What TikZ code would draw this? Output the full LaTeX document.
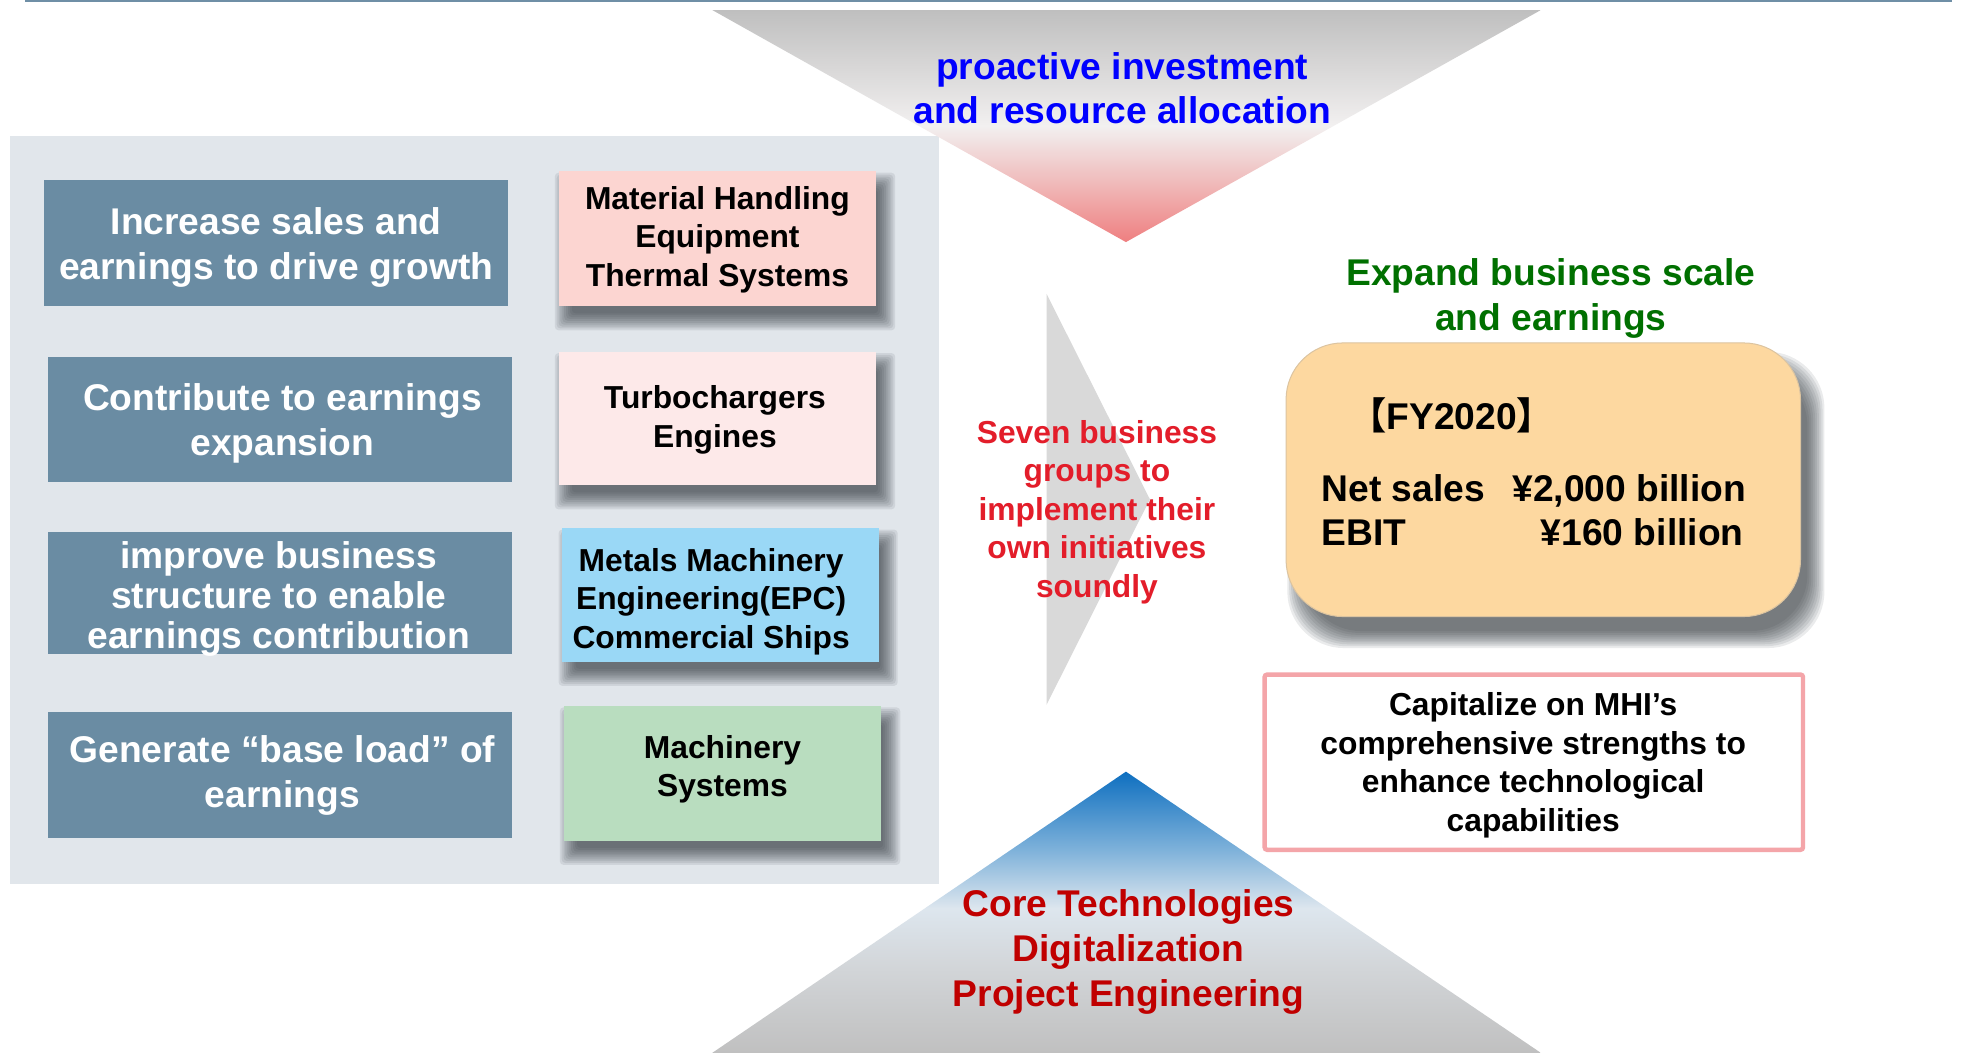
\documentclass[tikz,border=0pt]{standalone}
\usepackage{fontspec}
\setmainfont{Liberation Sans}
\newfontfamily\cjkfont{Noto Sans CJK JP}
\definecolor{topline}{HTML}{6F8FA6}
\definecolor{panel}{HTML}{E1E6EB}
\definecolor{bluebox}{HTML}{6A8CA3}
\definecolor{boxa}{HTML}{FCD5D1}
\definecolor{boxb}{HTML}{FDE9E9}
\definecolor{boxc}{HTML}{9AD8F6}
\definecolor{boxd}{HTML}{B9DDBF}
\definecolor{midtri}{HTML}{D9D9D9}
\definecolor{sevenred}{HTML}{E31D2A}
\definecolor{expgreen}{HTML}{007000}
\definecolor{coredred}{HTML}{C00000}
\definecolor{orangebox}{HTML}{FDD8A0}
\definecolor{orangeline}{HTML}{DCC4A0}
\definecolor{pinkline}{HTML}{F4A5A9}
\definecolor{tcoral}{HTML}{EF7F80}
\definecolor{tpinkmid}{HTML}{F0C4C4}
\definecolor{tpale}{HTML}{F2F0F0}
\definecolor{tgray}{HTML}{BFBFBF}
\definecolor{bblue}{HTML}{0E6FC0}
\definecolor{bmidblue}{HTML}{7FB2DA}
\definecolor{bpale}{HTML}{DDE6EE}
\definecolor{bgraymid}{HTML}{D2D5D8}
\definecolor{bgray}{HTML}{C0C0C0}
\definecolor{shadowcol}{HTML}{2A3038}
\pgfdeclareverticalshading{toptrishade}{100bp}{color(0bp)=(tcoral); color(25bp)=(tcoral); color(40bp)=(tpinkmid); color(50bp)=(tpale); color(75bp)=(tgray); color(100bp)=(tgray)}
\pgfdeclareverticalshading{bottrishade}{100bp}{color(0bp)=(bgray); color(25bp)=(bgray); color(40bp)=(bgraymid); color(50.7bp)=(bpale); color(61bp)=(bmidblue); color(75bp)=(bblue); color(100bp)=(bblue)}
\newcommand\bigtxt{\fontsize{29.5}{35.5}\selectfont\bfseries}
\newcommand\tighttxt{\fontsize{29.5}{31.5}\selectfont\bfseries}
\newcommand\smalltxt{\fontsize{25.2}{30.5}\selectfont\bfseries}
% soft shadow: x1 y1 x2 y2 dx dy corner
\newcommand\softshadow[7]{%
  \foreach \r in {9,7.5,...,-4.5}{%
    \fill[shadowcol, opacity=0.095, rounded corners=#7]
      ({#1+#5-\r},{#2+#6-\r}) rectangle ({#3+#5+\r},{#4+#6+\r});
  }}
\tikzset{
  leftbox/.style={fill=bluebox, inner sep=0pt, minimum width=368pt},
  rightbox/.style={inner sep=0pt, minimum width=252pt, minimum height=107pt},
  label/.style={inner sep=0pt, align=center}
}
\begin{document}
\begin{tikzpicture}[x=1pt,y=-1pt]
\useasboundingbox (0,0) rectangle (1568,837);
\fill[white] (0,0) rectangle (1568,837);
% top line
\draw[topline, line width=1.5pt] (20,1) coordinate (tl1) -- (1548,1) coordinate (tl2);
% left panel
\fill[panel] (8,108) rectangle (745,701);
% top triangle
\coordinate (ta) at (565,8);
\coordinate (tb) at (1222,8);
\coordinate (tc) at (893,192);
\shade[shading=toptrishade] (ta) -- (tb) -- (tc) -- cycle;
\node[label, text=blue, font=\bigtxt] (proactive) at (890,70) {proactive investment\\and resource allocation};
% middle triangle
\coordinate (ma) at (830,233);
\coordinate (mb) at (830,559);
\coordinate (mc) at (912,396);
\fill[midtri] (ma) -- (mc) -- (mb) -- cycle;
% bottom triangle
\coordinate (ba) at (893,612);
\coordinate (bb) at (1222,835);
\coordinate (bc) at (565,835);
\shade[shading=bottrishade] (ba) -- (bb) -- (bc) -- cycle;
% left boxes
\node[leftbox, minimum height=100pt] (g1) at (219,193) {};
\node[label, text=white, font=\bigtxt] (g1t) at (219,196) {Increase sales and\\earnings to drive growth};
\node[leftbox, minimum height=99pt] (g2) at (222,333) {};
\node[label, text=white, font=\bigtxt] (g2t) at (224,336) {Contribute to earnings\\expansion};
\node[leftbox, minimum height=97pt] (g3) at (222,470.5) {};
\node[label, text=white, font=\tighttxt] (g3t) at (221,475) {improve business\\structure to enable\\earnings contribution};
\node[leftbox, minimum height=100pt] (g4) at (222,615) {};
\node[label, text=white, font=\bigtxt] (g4t) at (224,615) {Generate “base load” of\\earnings};
% right boxes with shadows
\softshadow{443}{136}{695}{243}{6}{10}{3pt}
\softshadow{443}{279}{695}{385}{6}{10}{3pt}
\softshadow{446}{419}{697}{525}{6}{10}{3pt}
\softshadow{447}{560}{699}{667}{6}{10}{3pt}
\node[rightbox, fill=boxa] (r1) at (569,189.5) {};
\node[label, font=\smalltxt] (r1t) at (569,190) {Material Handling\\Equipment\\Thermal Systems};
\node[rightbox, fill=boxb, minimum height=106pt] (r2) at (569,332) {};
\node[label, font=\smalltxt] (r2t) at (567,333) {Turbochargers\\Engines};
\node[rightbox, fill=boxc, minimum width=251pt, minimum height=106pt] (r3) at (571.5,472) {};
\node[label, font=\smalltxt] (r3t) at (564,477) {Metals Machinery\\Engineering(EPC)\\Commercial Ships};
\node[rightbox, fill=boxd] (r4) at (573,613.5) {};
\node[label, font=\smalltxt] (r4t) at (573,610) {Machinery\\Systems};
% seven business groups
\node[label, text=sevenred, font=\smalltxt] (seven) at (870,406) {Seven business\\groups to\\implement their\\own initiatives\\soundly};
% expand
\node[label, text=expgreen, font=\bigtxt] (expand) at (1230,237) {Expand business scale\\and earnings};
% orange box
\softshadow{1020}{272}{1428}{489}{10}{16}{45pt}
\node[draw=orangeline, line width=0.8pt, fill=orangebox, rounded corners=45pt, minimum width=408pt, minimum height=217pt, inner sep=0pt] (fy) at (1224,380.5) {};
\node[label, anchor=base west, font=\bigtxt] (fyt) at (1070,341) {{\cjkfont【}FY2020{\cjkfont】}};
\node[label, anchor=base west, font=\bigtxt] (ns) at (1048,397.5) {Net sales};
\node[label, anchor=base east, font=\bigtxt] (nsv) at (1385,397.5) {¥2,000 billion};
\node[label, anchor=base west, font=\bigtxt] (eb) at (1048,432.5) {EBIT};
\node[label, anchor=base east, font=\bigtxt] (ebv) at (1383,432.5) {¥160 billion};
% capitalize box
\node[draw=pinkline, line width=3.5pt, fill=white, rounded corners=2pt, minimum width=427pt, minimum height=139pt, inner sep=0pt] (cap) at (1216.5,604.5) {};
\node[label, font=\smalltxt] (capt) at (1216,607) {Capitalize on MHI’s\\comprehensive strengths to\\enhance technological\\capabilities};
% core technologies
\node[label, text=coredred, font=\bigtxt] (core) at (895,755) {Core Technologies\\Digitalization\\Project Engineering};
\end{tikzpicture}
\end{document}
